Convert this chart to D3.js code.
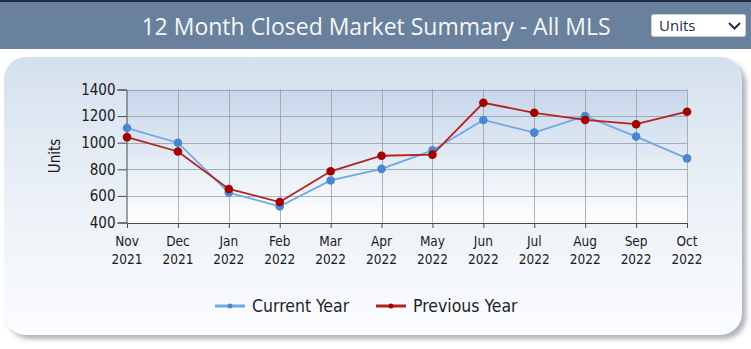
<!DOCTYPE html>
<html>
<head>
<meta charset="utf-8">
<script src="https://cdn.jsdelivr.net/npm/d3@7"></script>
<style>
	html, body { margin: 0; padding: 0; background: #fff; }
	svg { display: block; }
	.cond { font-family: "DejaVu Sans", sans-serif; font-stretch: condensed; }
</style>
</head>
<body>
<svg id="chart" width="751" height="349"></svg>
<script>
	"use strict";

	// chart data
	var months = ["Nov", "Dec", "Jan", "Feb", "Mar", "Apr", "May", "Jun", "Jul", "Aug", "Sep", "Oct"];
	var years = ["2021", "2021", "2022", "2022", "2022", "2022", "2022", "2022", "2022", "2022", "2022", "2022"];
	var currentYear = [1110, 1000, 625, 522, 716, 803, 942, 1171, 1076, 1201, 1046, 882];
	var previousYear = [1042, 934, 652, 554, 785, 902, 910, 1300, 1225, 1171, 1139, 1233];
	var yTicks = [400, 600, 800, 1000, 1200, 1400];

	var svg = d3.select("#chart");
	var defs = svg.append("defs");

	/**
	 * Header band with title and the units dropdown
	 */
	var header = function () {
		svg.append("rect")
			.attr("width", 751).attr("height", 49)
			.attr("fill", "#6a819d");
		svg.append("rect")
			.attr("width", 751).attr("height", 2)
			.attr("fill", "#1d2a40");

		svg.append("text")
			.attr("x", 376).attr("y", 35)
			.attr("text-anchor", "middle")
			.attr("font-family", "'Open Sans', sans-serif")
			.attr("font-size", 23)
			.attr("fill", "#f4f6fa")
			.text("12 Month Closed Market Summary - All MLS");

		svg.append("rect")
			.attr("x", 651.5).attr("y", 14.5)
			.attr("width", 94).attr("height", 22)
			.attr("rx", 2)
			.attr("fill", "#fff")
			.attr("stroke", "#c8ced8");
		svg.append("text")
			.attr("x", 659).attr("y", 31)
			.attr("font-family", "'Open Sans', sans-serif")
			.attr("font-size", 15)
			.attr("fill", "#1f2b48")
			.text("Units");
		svg.append("path")
			.attr("d", "M729,23 L734.5,28.5 L740,23")
			.attr("fill", "none")
			.attr("stroke", "#1f2b48")
			.attr("stroke-width", 2);
	};

	/**
	 * Rounded panel with gradient and soft shadow
	 */
	var panel = function () {
		var g = defs.append("linearGradient")
			.attr("id", "panelGrad")
			.attr("x1", 0).attr("y1", 0).attr("x2", 0).attr("y2", 1);
		g.append("stop").attr("offset", "0%").attr("stop-color", "#d5e0ee");
		g.append("stop").attr("offset", "55%").attr("stop-color", "#edf2f8");
		g.append("stop").attr("offset", "100%").attr("stop-color", "#fbfcfe");

		var f = defs.append("filter")
			.attr("id", "shadow")
			.attr("x", "-5%").attr("y", "-5%")
			.attr("width", "115%").attr("height", "120%");
		f.append("feDropShadow")
			.attr("dx", 4).attr("dy", 4)
			.attr("stdDeviation", 2.5)
			.attr("flood-color", "#6b7280")
			.attr("flood-opacity", 0.55);

		svg.append("rect")
			.attr("x", 4).attr("y", 57)
			.attr("width", 738).attr("height", 278)
			.attr("rx", 22)
			.attr("fill", "url(#panelGrad)")
			.attr("filter", "url(#shadow)");
	};

	/**
	 * Plot area, axes and series lines
	 */
	var plot = function () {
		var x = d3.scalePoint()
			.domain(d3.range(months.length))
			.range([127, 687]);
		var y = d3.scaleLinear()
			.domain([400, 1400])
			.range([222.5, 89.5]);

		var pg = defs.append("linearGradient")
			.attr("id", "plotGrad")
			.attr("x1", 0).attr("y1", 0).attr("x2", 0).attr("y2", 1);
		pg.append("stop").attr("offset", "0%").attr("stop-color", "#c6d6ea");
		pg.append("stop").attr("offset", "100%").attr("stop-color", "#ffffff");

		svg.append("rect")
			.attr("x", x(0)).attr("y", y(1400))
			.attr("width", x(11) - x(0))
			.attr("height", y(400) - y(1400))
			.attr("fill", "url(#plotGrad)");

		// grid
		svg.append("g")
			.selectAll("line")
			.data(yTicks)
			.join("line")
			.attr("x1", x(0)).attr("x2", x(11))
			.attr("y1", function (d) { return Math.round(y(d)) + 0.5; })
			.attr("y2", function (d) { return Math.round(y(d)) + 0.5; })
			.attr("stroke", "#8e949c")
			.attr("stroke-opacity", 0.7);
		svg.append("g")
			.selectAll("line")
			.data(d3.range(1, months.length))
			.join("line")
			.attr("x1", function (d) { return Math.round(x(d)) + 0.5; })
			.attr("x2", function (d) { return Math.round(x(d)) + 0.5; })
			.attr("y1", y(1400)).attr("y2", y(400))
			.attr("stroke", "#8e949c")
			.attr("stroke-opacity", 0.7);

		// axes
		var yAxis = svg.append("g")
			.attr("transform", "translate(" + (x(0) - 0.5) + ",0)")
			.call(d3.axisLeft(y).tickValues(yTicks).tickFormat(d3.format("d")).tickSize(9).tickPadding(2));
		yAxis.attr("font-family", null).attr("font-size", null);
		yAxis.select(".domain").attr("stroke", "#4a4a4a");
		yAxis.selectAll(".tick line").attr("stroke", "#4a4a4a");
		yAxis.selectAll(".tick text")
			.attr("class", "cond")
			.attr("font-size", 15)
			.attr("fill", "#1a1a1a");

		var xAxis = svg.append("g")
			.attr("transform", "translate(0," + (y(400) + 0.5) + ")")
			.call(d3.axisBottom(x).tickSize(5).tickSizeOuter(0).tickFormat(function () { return ""; }));
		xAxis.select(".domain").attr("stroke", "#4a4a4a");
		xAxis.selectAll(".tick line").attr("stroke", "#4a4a4a");
		xAxis.selectAll(".tick text").remove();

		var labels = svg.append("g")
			.attr("class", "cond")
			.attr("font-size", 13.5)
			.attr("fill", "#1a1a1a")
			.attr("text-anchor", "middle")
			.selectAll("text")
			.data(months)
			.join("text")
			.attr("x", function (d, i) { return x(i); })
			.attr("y", 246);
		labels.append("tspan").text(function (d) { return d; });
		labels.append("tspan")
			.attr("x", function (d, i) { return x(i); })
			.attr("dy", 18)
			.text(function (d, i) { return years[i]; });

		svg.append("text")
			.attr("class", "cond")
			.attr("transform", "translate(60,156) rotate(-90)")
			.attr("text-anchor", "middle")
			.attr("font-size", 15)
			.attr("fill", "#1a1a1a")
			.text("Units");

		// series
		var series = [
			{ values: currentYear, line: "#70a7e6", dot: "#4a87d2" },
			{ values: previousYear, line: "#b22222", dot: "#a30000" }
		];
		var line = d3.line()
			.x(function (d, i) { return x(i); })
			.y(function (d) { return y(d); });

		series.forEach(function (s) {
			svg.append("path")
				.datum(s.values)
				.attr("d", line)
				.attr("fill", "none")
				.attr("stroke", s.line)
				.attr("stroke-width", 1.8);
			svg.append("g")
				.selectAll("circle")
				.data(s.values)
				.join("circle")
				.attr("cx", function (d, i) { return x(i); })
				.attr("cy", function (d) { return y(d); })
				.attr("r", 4.3)
				.attr("fill", s.dot);
		});

		legend(series);
	};

	/**
	 * Legend below the plot
	 * @param  {Array} series
	 */
	var legend = function (series) {
		var items = [
			{ name: "Current Year", x: 215, s: series[0] },
			{ name: "Previous Year", x: 376, s: series[1] }
		];
		var lg = svg.append("g").selectAll("g")
			.data(items)
			.join("g")
			.attr("transform", function (d) { return "translate(" + d.x + ",306)"; });
		lg.append("line")
			.attr("x1", 0).attr("x2", 30)
			.attr("stroke", function (d) { return d.s.line; })
			.attr("stroke-width", 3);
		lg.append("circle")
			.attr("cx", 15).attr("r", 2.5)
			.attr("fill", function (d) { return d.s.dot; });
		lg.append("text")
			.attr("class", "cond")
			.attr("x", 37).attr("y", 6)
			.attr("font-size", 17.5)
			.attr("fill", "#1e1e2a")
			.text(function (d) { return d.name; });
	};

	header();
	panel();
	plot();
</script>
</body>
</html>
